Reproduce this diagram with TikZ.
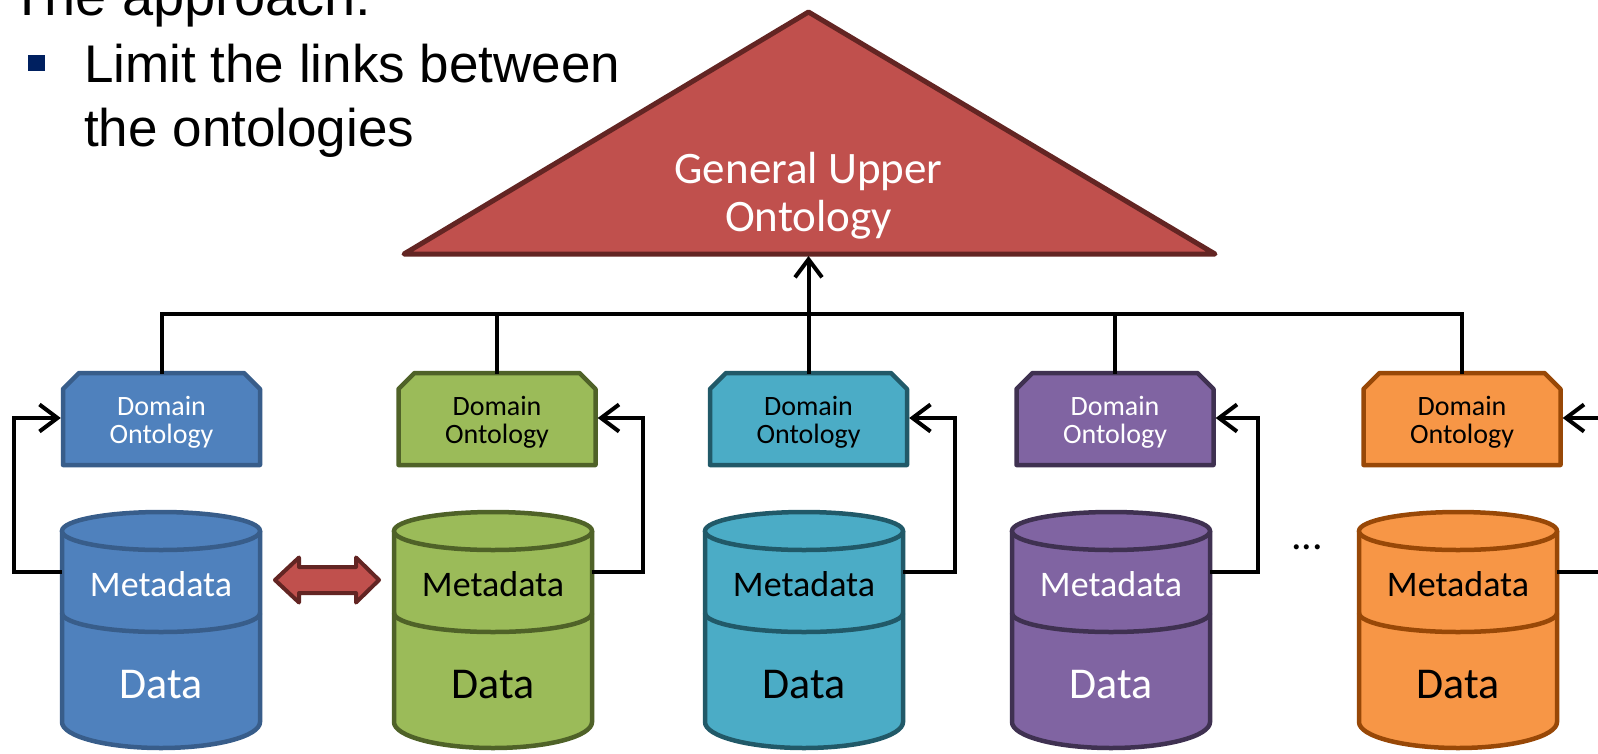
\documentclass[tikz,border=0pt]{standalone}
\usepackage{fontspec}
\setmainfont{Carlito}
\newfontfamily\arialfont{Liberation Sans}
\usetikzlibrary{arrows.meta}
\definecolor{blueF}{HTML}{4F81BD}\definecolor{blueB}{HTML}{385D8A}
\definecolor{greenF}{HTML}{9BBB59}\definecolor{greenB}{HTML}{4F6228}
\definecolor{cyanF}{HTML}{4BACC6}\definecolor{cyanB}{HTML}{215968}
\definecolor{purpF}{HTML}{8064A2}\definecolor{purpB}{HTML}{3F3151}
\definecolor{oranF}{HTML}{F79646}\definecolor{oranB}{HTML}{984807}
\definecolor{redF}{HTML}{C0504D}\definecolor{redB}{HTML}{632523}
\definecolor{navy}{HTML}{002060}
\newcommand\ontcolumn[6]{%
  \draw[line width=4.5pt, line join=round, fill=#4, draw=#5]
    (#2-98.5,465) -- (#2-98.5,389) -- (#2-82.5,373) -- (#2+82.5,373) -- (#2+98.5,389) -- (#2+98.5,465) -- cycle;
  \node[dombox, text=#6] (dom#1) at (#2,420) {Domain\\Ontology};
  \fill[#4] (#3-99,531) -- (#3-99,722) arc[start angle=180,end angle=360,x radius=99pt,y radius=26pt] -- (#3+99,531) -- cycle;
  \draw[line width=4.5pt, draw=#5] (#3-99,531) -- (#3-99,722) arc[start angle=180,end angle=360,x radius=99pt,y radius=26pt] -- (#3+99,531);
  \draw[line width=4.5pt, draw=#5, fill=#4] (#3,531) ellipse[x radius=99pt, y radius=19pt];
  \draw[line width=4.5pt, draw=#5] (#3-99,613) arc[start angle=180,end angle=360,x radius=99pt,y radius=19pt];
  \node[cylbody] (cyl#1) at (#3,630) {};
  \node[metat, text=#6] (meta#1) at (#3,584) {Metadata};
  \node[datat, text=#6] (data#1) at (#3,685) {Data};
}
\begin{document}
\begin{tikzpicture}[x=1pt,y=-1pt,
  conn/.style={line width=4pt, draw=black},
  arr/.style={conn, -{Straight Barb[length=18pt,width=27pt]}, shorten >=2pt},
  dombox/.style={minimum width=197pt, minimum height=92pt, inner sep=0pt, align=center,
    font=\fontsize{28}{28.5}\selectfont, text depth=0pt},
  cylbody/.style={minimum width=198pt, minimum height=236pt, inner sep=0pt},
  metat/.style={inner sep=0pt, font=\fontsize{36}{36}\selectfont},
  datat/.style={inner sep=0pt, font=\fontsize{44}{44}\selectfont},
  bullettext/.style={anchor=base west, inner sep=0pt, font=\arialfont\fontsize{53}{53}\selectfont},
]
\clip (0,0) rectangle (1598,753);
\fill[white] (0,0) rectangle (1598,753);

% title and bullet
\node[anchor=base west, inner sep=0pt, font=\arialfont\fontsize{56}{56}\selectfont] (title) at (10,15) {The approach:};
\fill[navy] (28,55) rectangle (45,71);
\node[bullettext] (line1) at (84,82) {Limit the links between};
\node[bullettext] (line2) at (84,146) {the ontologies};

% upper ontology
\draw[line width=5pt, line join=round, fill=redF, draw=redB] (404,254) -- (808.5,12) -- (1215,254) -- cycle;
\node[font=\fontsize{45}{48}\selectfont, text=white, align=center] (upper) at (808.5,196) {General Upper\\Ontology};
\coordinate (tribase) at (808.5,254);

% columns
\ontcolumn{1}{161.5}{161}{blueF}{blueB}{white}
\ontcolumn{2}{497}{493}{greenF}{greenB}{black}
\ontcolumn{3}{808.5}{804}{cyanF}{cyanB}{black}
\ontcolumn{4}{1115}{1111}{purpF}{purpB}{white}
\ontcolumn{5}{1462}{1458}{oranF}{oranB}{black}

% bus to upper ontology
\coordinate (bus) at (0,314);
\draw[conn] (dom1.north) |- (dom5.north |- bus) -- (dom5.north);
\draw[conn] (dom2.north) -- (dom2.north |- bus);
\draw[conn] (dom3.north) -- (dom3.north |- bus);
\draw[conn] (dom4.north) -- (dom4.north |- bus);
\draw[arr] (dom3.north |- bus) -- (tribase);

% feedback links metadata -> domain ontology
\coordinate (ey) at (0,572);
\coordinate (k1) at (14,418);
\coordinate (k2) at (643,418);
\coordinate (k3) at (955,418);
\coordinate (k4) at (1258,418);
\coordinate (k5) at (1610,418);
\coordinate (e5) at (1610,572);
\draw[arr] (cyl1.west |- ey) -| (k1) -- (dom1.west |- k1);
\draw[arr] (cyl2.east |- ey) -| (k2) -- (dom2.east |- k2);
\draw[arr] (cyl3.east |- ey) -| (k3) -- (dom3.east |- k3);
\draw[arr] (cyl4.east |- ey) -| (k4) -- (dom4.east |- k4);
\draw[conn] (cyl5.east |- ey) -- (e5);
\draw[arr] (k5) -- (dom5.east |- k5);

% double arrow between metadata stores
\draw[line width=4pt, line join=round, fill=redF, draw=redB]
  (275,580) -- (299,557.5) -- (299,567) -- (356,567) -- (356,557.5) -- (379,580)
  -- (356,602.5) -- (356,593) -- (299,593) -- (299,602.5) -- cycle;

% ellipsis
\node[inner sep=0pt, font=\fontsize{42}{42}\selectfont] (dots) at (1307,547) {...};
\end{tikzpicture}
\end{document}
